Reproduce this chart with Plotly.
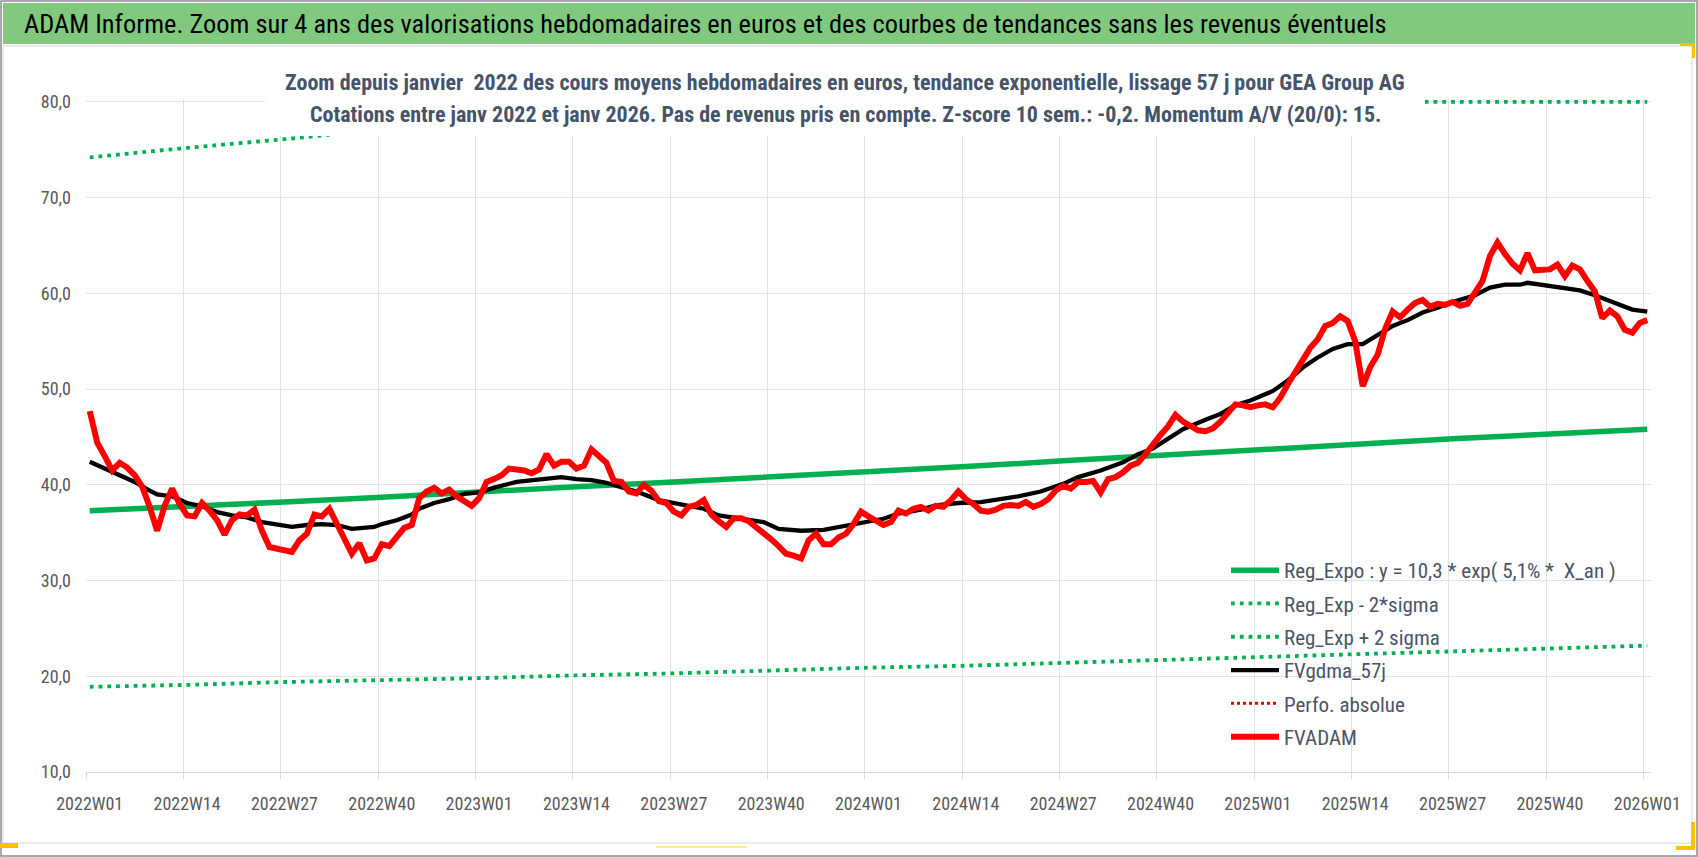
import plotly.graph_objects as go

# ---- data (weekly categories 2022W01 .. 2026W01) ----
tick_weeks = [0, 13, 26, 39, 52, 65, 78, 91, 104, 117, 130, 143, 156, 169, 182, 195, 208]
tick_labels = ['2022W01', '2022W14', '2022W27', '2022W40', '2023W01', '2023W14', '2023W27',
               '2023W40', '2024W01', '2024W14', '2024W27', '2024W40', '2025W01', '2025W14',
               '2025W27', '2025W40', '2026W01']

# FVADAM, one value per week
fvadam = [
    47.7, 44.4, 43.0, 41.5, 42.3, 41.8, 41.0, 39.8, 37.7, 35.2, 37.8, 39.6, 38.0,
    36.8, 36.7, 38.1, 37.3, 36.3, 34.8, 36.3, 36.9, 36.8, 37.4, 35.2, 33.5, 33.3,
    33.2, 33.0, 34.2, 34.9, 36.9, 36.7, 37.5, 35.9, 34.2, 32.8, 33.9, 32.1, 32.3,
    33.8, 33.6, 34.5, 35.5, 35.8, 38.6, 39.3, 39.7, 39.1, 39.5, 38.8, 38.3, 37.8,
    38.6, 40.3, 40.6, 41.0, 41.7, 41.6, 41.5, 41.2, 41.6, 43.2, 42.0, 42.4, 42.4,
    41.7, 42.0, 43.7, 43.0, 42.3, 40.4, 40.3, 39.3, 39.1, 40.0, 39.4, 38.3, 38.1,
    37.2, 36.8, 37.7, 37.9, 38.4, 36.9, 36.2, 35.6, 36.5, 36.5, 36.2, 35.6, 35.0,
    34.3, 33.6, 32.8, 32.6, 32.3, 34.2, 34.9, 33.8, 33.8, 34.5, 34.9, 35.9, 37.2,
    36.7, 36.2, 35.8, 36.1, 37.3, 37.0, 37.5, 37.7, 37.3, 37.8, 37.7, 38.4, 39.3,
    38.5, 38.0, 37.3, 37.2, 37.4, 37.8, 37.9, 37.8, 38.2, 37.7, 38.0, 38.5, 39.4,
    39.9, 39.6, 40.3, 40.3, 40.4, 39.2, 40.6, 40.8, 41.3, 42.0, 42.3, 43.2, 44.3,
    45.2, 46.1, 47.3, 46.6, 46.1, 45.7, 45.6, 45.9, 46.6, 47.6, 48.4, 48.3, 48.1,
    48.3, 48.4, 48.1, 49.1, 50.5, 51.8, 53.1, 54.3, 55.2, 56.6, 56.9, 57.6, 57.1,
    55.0, 50.3, 52.3, 53.6, 56.3, 58.1, 57.5, 58.3, 59.0, 59.3, 58.6, 58.9, 58.8,
    59.1, 58.7, 58.9, 60.1, 61.3, 63.9, 65.3, 64.1, 63.1, 62.4, 64.2, 62.4, 62.5,
    62.5, 63.0, 61.8, 62.9, 62.5, 61.3, 60.2, 57.4, 58.2, 57.6, 56.2, 55.9, 56.9,
    57.2,
]
fvadam_weeks = list(range(len(fvadam)))

# FVgdma_57j (smooth), read at these weeks
gdma_weeks = [0, 2, 4, 6, 8, 9, 11, 13, 15, 17, 19, 21, 23, 25, 27, 29, 31, 33, 35, 38,
              39, 41, 43, 44, 46, 48, 50, 52, 54, 57, 59, 61, 63, 65, 67, 69, 71, 73, 76, 79,
              82, 84, 87, 90, 92, 95, 98, 100, 103, 106, 108, 111, 113, 116, 119, 121, 124, 127, 130, 132,
              135, 138, 140, 142, 144, 146, 149, 151, 153, 155, 158, 160, 162, 164, 166, 168, 170, 172, 174, 176,
              178, 180, 182, 185, 187, 189, 191, 192, 194, 196, 199, 201, 203, 204, 206, 208]
gdma = [42.4, 41.7, 41.0, 40.3, 39.4, 39.0, 38.8, 38.1, 37.75, 37.15, 36.8, 36.6, 36.1, 35.8, 35.6, 35.8, 35.9, 35.8, 35.4, 35.6,
        35.9, 36.3, 36.9, 37.5, 38.1, 38.5, 39.05, 39.2, 39.7, 40.3, 40.5, 40.7, 40.8, 40.6, 40.5, 40.2, 39.8, 39.3, 38.4, 37.9,
        37.5, 36.8, 36.5, 36.1, 35.4, 35.2, 35.3, 35.6, 36.1, 36.45, 37.0, 37.4, 37.85, 38.1, 38.2, 38.4, 38.8, 39.3, 40.1, 40.8,
        41.5, 42.35, 43.2, 43.8, 44.8, 45.8, 46.8, 47.4, 48.3, 48.8, 49.8, 50.9, 52.25, 53.3, 54.2, 54.7, 54.7, 55.6, 56.6, 57.2,
        58.0, 58.5, 59.1, 59.8, 60.6, 60.9, 60.9, 61.1, 60.9, 60.65, 60.3, 59.8, 59.2, 58.85, 58.3, 58.1]

# regression and +/- 2 sigma bands, read at the labelled weeks
reg_expo = [37.3, 37.7, 38.2, 38.7, 39.3, 39.8, 40.3, 40.8, 41.3, 41.9, 42.5, 43.1, 43.7, 44.2, 44.8, 45.3, 45.8]
reg_minus = [18.9, 19.1, 19.4, 19.6, 19.8, 20.1, 20.3, 20.6, 20.9, 21.1, 21.4, 21.7, 22.0, 22.3, 22.6, 22.9, 23.2]
reg_plus = [74.2, 75.2, 76.1, 77.1, 78.1, 79.1, 80.0, 80.0, 80.0, 80.0, 80.0, 80.0, 80.0, 80.0, 80.0, 80.0, 80.0]

GREEN = '#00b050'
FONT = 'Roboto Condensed, Liberation Sans, sans-serif'
GREY = '#595959'
SLATE = '#44546a'

W, H = 1698, 857
L, R, T, B = 86, 1651, 99, 772


def px(x, y):
    # pixel position on the page -> paper coordinates
    return (x - L) / (R - L), (B - y) / (B - T)


fig = go.Figure()
fig.add_trace(go.Scatter(x=tick_weeks, y=reg_expo, mode='lines', legendgroup='a',
                         name='Reg_Expo : y = 10,3 * exp( 5,1% *  X_an )',
                         line=dict(color=GREEN, width=5.5)))
fig.add_trace(go.Scatter(x=tick_weeks, y=reg_minus, mode='lines', legendgroup='b',
                         name='Reg_Exp - 2*sigma',
                         line=dict(color=GREEN, width=3.8, dash='3.8px,5px')))
fig.add_trace(go.Scatter(x=tick_weeks, y=reg_plus, mode='lines', legendgroup='c',
                         name='Reg_Exp + 2 sigma',
                         line=dict(color=GREEN, width=3.8, dash='3.8px,5px')))
fig.add_trace(go.Scatter(x=gdma_weeks, y=gdma, mode='lines', legendgroup='d',
                         name='FVgdma_57j', line=dict(color='black', width=4.3)))
fig.add_trace(go.Scatter(x=[None], y=[None], mode='lines', legendgroup='e',
                         name='Perfo. absolue',
                         line=dict(color='#e00000', width=3, dash='3px,3px')))
fig.add_trace(go.Scatter(x=fvadam_weeks, y=fvadam, mode='lines', legendgroup='f',
                         name='FVADAM', line=dict(color='#ff0000', width=6)))

shapes = []
# outer frame and chart frame
x0, y0 = px(1, 1); x1, y1 = px(1697, 856)
shapes.append(dict(type='rect', xref='paper', yref='paper', x0=x0, y0=y0, x1=x1, y1=y1,
                   line=dict(color='#8c8c8c', width=1.5), layer='below'))
x0, y0 = px(3, 46); x1, y1 = px(1692, 843)
shapes.append(dict(type='rect', xref='paper', yref='paper', x0=x0, y0=y0, x1=x1, y1=y1,
                   line=dict(color='#d9d9d9', width=1), layer='below'))
# green header band
x0, y0 = px(3, 3); x1, y1 = px(1695, 44)
shapes.append(dict(type='rect', xref='paper', yref='paper', x0=x0, y0=y0, x1=x1, y1=y1,
                   fillcolor='#80c97f', line=dict(width=0), layer='below'))
# white box behind the chart title
x0, y0 = px(265, 62); x1, y1 = px(1425, 136)
shapes.append(dict(type='rect', xref='paper', yref='paper', x0=x0, y0=y0, x1=x1, y1=y1,
                   fillcolor='white', line=dict(width=0), layer='above'))
# selection handles left by the spreadsheet
for (a, b, c, d, col) in [(0, 843, 18, 848, '#ffc000'), (656, 846, 747, 848, '#fff176'),
                          (1680, 43, 1695, 46, '#ffc000'), (1692, 43, 1695, 58, '#ffc000'),
                          (1676, 846, 1695, 850, '#ffc000'), (1691, 822, 1695, 850, '#ffc000')]:
    x0, y0 = px(a, b); x1, y1 = px(c, d)
    shapes.append(dict(type='rect', xref='paper', yref='paper', x0=x0, y0=y0, x1=x1, y1=y1,
                       fillcolor=col, line=dict(width=0), layer='above'))

ann = []
ax, ay = px(22, 24)
ann.append(dict(xref='paper', yref='paper', x=ax, y=ay, xanchor='left', yanchor='middle',
                showarrow=False, text='ADAM Informe. Zoom sur 4 ans des valorisations hebdomadaires '
                'en euros et des courbes de tendances sans les revenus éventuels',
                font=dict(family=FONT, size=26.4, color='black')))
ax, ay = px(845, 82)
ann.append(dict(xref='paper', yref='paper', x=ax, y=ay, xanchor='center', yanchor='middle',
                showarrow=False, text='<b>Zoom depuis janvier  2022 des cours moyens hebdomadaires en euros, '
                'tendance exponentielle, lissage 57 j pour GEA Group AG</b>',
                font=dict(family=FONT, size=22, color=SLATE)))
ax, ay = px(845, 114)
ann.append(dict(xref='paper', yref='paper', x=ax, y=ay, xanchor='center', yanchor='middle',
                showarrow=False, text='<b>Cotations entre janv 2022 et janv 2026. Pas de revenus pris en compte. '
                'Z-score 10 sem.: -0,2. Momentum A/V (20/0): 15.</b>',
                font=dict(family=FONT, size=22, color=SLATE)))

lx, ly = px(1226, 550)
fig.update_layout(
    width=W, height=H,
    margin=dict(l=L, r=W - R, t=T, b=H - B),
    paper_bgcolor='white', plot_bgcolor='white',
    separators=', ',
    shapes=shapes, annotations=ann,
    showlegend=True,
    legend=dict(x=lx, y=ly, xanchor='left', yanchor='top', bgcolor='rgba(0,0,0,0)',
                font=dict(family=FONT, size=21, color='#4a5467'), itemwidth=48,
                tracegroupgap=3, traceorder='grouped'),
    xaxis=dict(range=[-0.5, 208.5], tickmode='array', tickvals=tick_weeks, ticktext=tick_labels,
               showgrid=False, zeroline=False, showline=True, linecolor='#d9d9d9', linewidth=1.3,
               ticks='', ticklabelstandoff=15,
               tickfont=dict(family=FONT, size=18, color=GREY),
               minor=dict(tickmode='array', tickvals=[w - 0.5 for w in tick_weeks], showgrid=True,
                          gridcolor='#dfe2e8', gridwidth=1.3, ticks='outside', ticklen=6,
                          tickcolor='#d9d9d9')),
    yaxis=dict(range=[10, 80.3], tick0=10, dtick=10, tickformat='.1f', showgrid=True,
               gridcolor='#dfe2e8', gridwidth=1.3, zeroline=False, showline=False,
               ticklabelstandoff=14, tickfont=dict(family=FONT, size=18, color=GREY)),
)

fig.write_html('out.html', config={'displayModeBar': False},
               post_script="document.body.style.margin='0';document.body.style.overflow='hidden';")
